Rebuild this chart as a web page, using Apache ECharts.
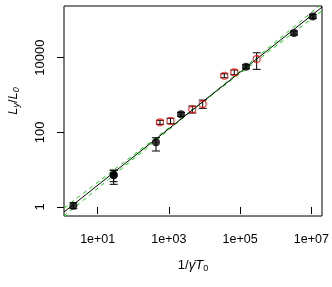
<!DOCTYPE html>
<html>
<head>
<meta charset="utf-8">
<script src="https://cdn.jsdelivr.net/npm/echarts@6/dist/echarts.min.js"></script>
<style>html,body{margin:0;padding:0;background:#fff}#c{width:332px;height:287px}</style>
</head>
<body>
<div id="c"></div>
<script>
// ---- data (raw values) ----
var xTickValues = [10, 1000, 1e5, 1e7];
var yTickValues = [1, 100, 10000];
var xRange = [1.13, 2.0e7];
var yRange = [0.574, 242000];

// black filled points: x, y, low, high
var blackX    = [2.07, 28.1, 28.1, 434, 2188, 146600, 3.27e6, 1.1e7];
var blackY    = [1.08, 7.2, 7.2, 54, 303, 5700, 45600, 127600];
var blackLow  = [0.9, 4.05, 4.76, 31.6, 268, 5040, 40300, 112800];
var blackHigh = [1.3, 9.8, 9.4, 71.7, 343, 6450, 51600, 144400];

// red open points: x, y, low, high
var redX    = [562, 1109, 4540, 8890, 35970, 68700, 292400];
var redY    = [185, 201, 413, 573, 3273, 4036, 9183];
var redLow  = [164, 170, 329, 439, 2900, 3480, 4862];
var redHigh = [210, 238, 506, 733, 3690, 4680, 13520];

// fitted lines (end points)
var blackFitX = [1.13, 2.0e7];
var blackFitY = [0.735, 226000];
var greenAX = [1.13, 2.0e7];
var greenAY = [0.94, 180300];
var greenBX = [1.13, 2.0e7];
var greenBY = [0.574, 280500];

// ---- build ----
var L = Math.log10;
function pts(xs, ys) { return xs.map(function (x, i) { return [L(x), L(ys[i])]; }); }
function bars(xs, lo, hi) { return xs.map(function (x, i) { return [L(x), L(lo[i]), L(hi[i])]; }); }
var errData = bars(blackX, blackLow, blackHigh).concat(bars(redX, redLow, redHigh));

var FONT = 'Liberation Sans';
var chart = echarts.init(document.getElementById('c'), null, {renderer: 'canvas'});

function errRender(params, api) {
  var x = api.value(0);
  var a = api.coord([x, api.value(1)]);
  var b = api.coord([x, api.value(2)]);
  var w = 4;
  var st = {stroke: '#000', lineWidth: 1};
  return {
    type: 'group',
    children: [
      {type: 'line', shape: {x1: a[0], y1: a[1], x2: b[0], y2: b[1]}, style: st},
      {type: 'line', shape: {x1: a[0] - w, y1: a[1], x2: a[0] + w, y2: a[1]}, style: st},
      {type: 'line', shape: {x1: b[0] - w, y1: b[1], x2: b[0] + w, y2: b[1]}, style: st}
    ]
  };
}

var option = {
  animation: false,
  backgroundColor: '#fff',
  grid: {left: 64, right: 10, top: 6, bottom: 71, show: true, borderColor: '#000', borderWidth: 1, backgroundColor: 'transparent'},
  xAxis: {
    type: 'value', min: L(xRange[0]), max: L(xRange[1]),
    axisLine: {show: false}, splitLine: {show: false},
    axisTick: {show: true, length: 7, lineStyle: {color: '#000', width: 1}, customValues: xTickValues.map(L)},
    axisLabel: {
      customValues: xTickValues.map(L), margin: 17, color: '#000', fontSize: 12.5, fontFamily: FONT,
      formatter: function (v) { var e = Math.round(v); return '1e+' + (e < 10 ? '0' : '') + e; }
    }
  },
  yAxis: {
    type: 'value', min: L(yRange[0]), max: L(yRange[1]),
    axisLine: {show: false}, splitLine: {show: false},
    axisTick: {show: true, length: 7, lineStyle: {color: '#000', width: 1}, customValues: yTickValues.map(L)},
    axisLabel: {
      customValues: yTickValues.map(L), margin: 17, rotate: 90, color: '#000', fontSize: 13, fontFamily: FONT,
      formatter: function (v) { return String(Math.round(Math.pow(10, v))); }
    }
  },
  graphic: [
    {
      type: 'text', x: 193, y: 265, z: 10,
      style: {
        text: '{n|1/}{i|γ̇T}{s|0}', align: 'center', verticalAlign: 'middle',
        rich: {
          n: {fontSize: 13, fontFamily: FONT, fill: '#000', lineHeight: 16},
          i: {fontSize: 13, fontFamily: FONT, fontStyle: 'italic', fill: '#000', lineHeight: 16},
          s: {fontSize: 9, fontFamily: FONT, fill: '#000', lineHeight: 10, verticalAlign: 'bottom'}
        }
      }
    },
    {
      type: 'text', x: 13, y: 101, rotation: Math.PI / 2, z: 10,
      style: {
        text: '{i|L}{s|y}{n|/}{i|L}{s|0}', align: 'center', verticalAlign: 'middle',
        rich: {
          n: {fontSize: 13, fontFamily: FONT, fill: '#000', lineHeight: 16},
          i: {fontSize: 13, fontFamily: FONT, fontStyle: 'italic', fill: '#000', lineHeight: 16},
          s: {fontSize: 9, fontFamily: FONT, fontStyle: 'italic', fill: '#000', lineHeight: 10, verticalAlign: 'bottom'}
        }
      }
    }
  ],
  series: [
    {type: 'line', data: pts(greenAX, greenAY), symbol: 'none', z: 1, lineStyle: {color: '#00dd00', width: 1, type: [4, 4]}},
    {type: 'line', data: pts(greenBX, greenBY), symbol: 'none', z: 1, lineStyle: {color: '#00dd00', width: 1, type: [4, 4]}},
    {type: 'line', data: pts(blackFitX, blackFitY), symbol: 'none', z: 2, lineStyle: {color: '#000', width: 1}},
    {type: 'custom', renderItem: errRender, data: errData, z: 3, encode: {x: 0, y: [1, 2]}},
    {type: 'scatter', data: pts(redX, redY), symbol: 'circle', symbolSize: 7, z: 4,
     itemStyle: {color: 'rgba(0,0,0,0)', borderColor: '#ff0000', borderWidth: 1.2}},
    {type: 'scatter', data: pts(blackX, blackY), symbol: 'circle', symbolSize: 8, z: 5,
     itemStyle: {color: '#000', borderWidth: 0}}
  ]
};
chart.setOption(option);
</script>
</body>
</html>
